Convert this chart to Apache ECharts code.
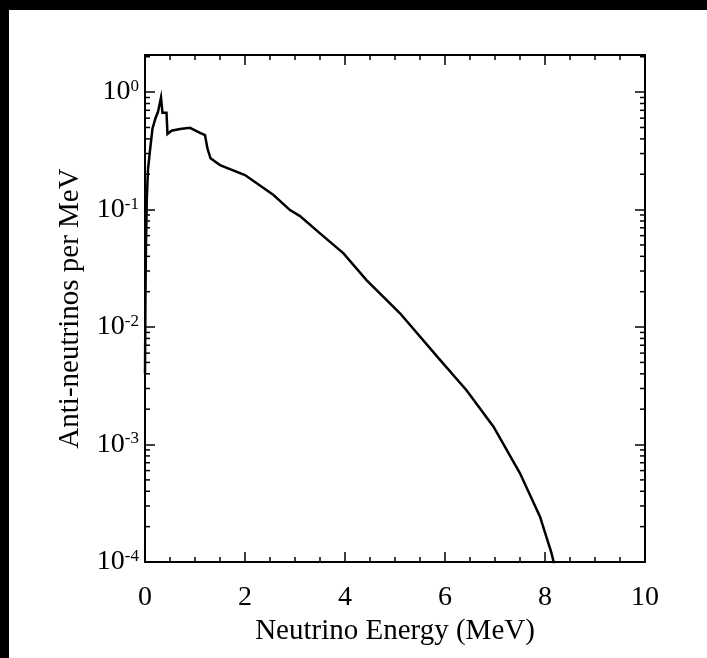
<!DOCTYPE html>
<html>
<head>
<meta charset="utf-8">
<script src="https://cdn.jsdelivr.net/npm/echarts@6/dist/echarts.min.js"></script>
<style>
  html, body { margin: 0; padding: 0; background: #000; }
  #frame { position: absolute; left: 9px; top: 10px; width: 698px; height: 648px; background: #fff; }
</style>
</head>
<body>
<div id="frame"></div>
<script>
// Reactor anti-neutrino spectrum (per MeV) versus neutrino energy
const energy = [0, 0.01, 0.02, 0.035, 0.06, 0.1, 0.15, 0.21, 0.26, 0.28, 0.32, 0.35, 0.43, 0.45,
                0.53, 0.7, 0.9, 1.1, 1.2, 1.25, 1.31, 1.5, 2.0, 2.57, 2.9, 3.1, 3.5, 3.97,
                4.43, 5.1, 5.9, 6.43, 6.97, 7.5, 7.9, 8.13, 8.3];
const flux   = [0.004, 0.02, 0.05, 0.12, 0.22, 0.32, 0.49, 0.60, 0.68, 0.66, 0.90, 0.667, 0.667, 0.44,
                0.469, 0.485, 0.497, 0.45, 0.43, 0.33, 0.273, 0.239, 0.197, 0.133, 0.099, 0.088, 0.0627, 0.0424,
                0.0251, 0.0131, 0.00525, 0.0029, 0.00142, 0.000569, 0.000243, 0.000119, 0.00006];

const xTicks = [0, 2, 4, 6, 8, 10];
const yMin = 1e-4;
const yMax = 2.07;
// minor ticks of the log axis at 2..9 x 10^k
const yMinor = [];
for (let k = -4; k <= 0; k++) {
  for (let m = 2; m <= 9; m++) {
    const v = m * Math.pow(10, k);
    if (v < yMax) yMinor.push(v);
  }
}

const FONT = 'Liberation Serif';
const chart = echarts.init(document.getElementById('frame'), null, { renderer: 'canvas' });

const axisLineStyle = { color: '#000', width: 2 };
const tickStyle = { color: '#000', width: 1.5 };

const xCommon = {
  type: 'value', min: xTicks[0], max: xTicks[xTicks.length - 1], interval: 2,
  axisLine: { show: true, onZero: false, lineStyle: axisLineStyle },
  axisTick: { show: true, inside: true, length: 10, lineStyle: tickStyle },
  minorTick: { show: true, splitNumber: 4, length: 5, lineStyle: tickStyle },
  splitLine: { show: false }, minorSplitLine: { show: false }
};
const yCommon = {
  type: 'log', logBase: 10, min: yMin, max: yMax, splitNumber: 4,
  axisLine: { show: true, onZero: false, lineStyle: axisLineStyle },
  axisTick: { show: true, inside: true, length: 10, lineStyle: tickStyle },
  splitLine: { show: false }
};

function powLabel(v) {
  const e = Math.log10(v);
  const r = Math.round(e);
  if (Math.abs(e - r) > 1e-6) return '';
  return '{b|10}{s|' + r + '}';
}

chart.setOption({
  animation: false,
  backgroundColor: '#fff',
  grid: { left: 136, top: 45, right: 62, bottom: 96 },
  xAxis: [
    Object.assign({}, xCommon, {
      position: 'bottom',
      name: 'Neutrino Energy (MeV)', nameLocation: 'middle', nameGap: 50,
      nameTextStyle: { fontFamily: FONT, fontSize: 29, color: '#000' },
      axisLabel: { show: true, margin: 22, fontFamily: FONT, fontSize: 28, color: '#000' }
    }),
    Object.assign({}, xCommon, { position: 'top', axisLabel: { show: false } })
  ],
  yAxis: [
    Object.assign({}, yCommon, {
      position: 'left',
      name: 'Anti-neutrinos per MeV', nameLocation: 'middle', nameGap: 60, nameRotate: 90,
      nameTextStyle: { fontFamily: FONT, fontSize: 29, color: '#000' },
      axisLabel: {
        show: true, margin: 6, formatter: powLabel,
        rich: {
          b: { fontFamily: FONT, fontSize: 28, color: '#000', lineHeight: 28, verticalAlign: 'bottom' },
          s: { fontFamily: FONT, fontSize: 17, color: '#000', lineHeight: 28, verticalAlign: 'top', padding: [0, 0, 14, 0] }
        }
      }
    }),
    Object.assign({}, yCommon, { position: 'right', axisLabel: { show: false } })
  ],
  series: [
    {
      type: 'line', xAxisIndex: 0, yAxisIndex: 0,
      data: energy.map((e, i) => [e, flux[i]]),
      showSymbol: false, symbol: 'none', clip: true,
      lineStyle: { color: '#000', width: 2.5, join: 'miter' }
    },
    {
      // minor log ticks drawn inward on the left and right frame edges
      type: 'custom', xAxisIndex: 0, yAxisIndex: 0, silent: true,
      data: yMinor.map(v => [0, v]),
      renderItem: function (params, api) {
        const cs = params.coordSys;
        const y = api.coord([0, api.value(1)])[1];
        if (y < cs.y + 1 || y > cs.y + cs.height - 1) return null;
        const st = { stroke: '#000', lineWidth: 1.5 };
        return {
          type: 'group',
          children: [
            { type: 'line', shape: { x1: cs.x, y1: y, x2: cs.x + 5, y2: y }, style: st },
            { type: 'line', shape: { x1: cs.x + cs.width - 5, y1: y, x2: cs.x + cs.width, y2: y }, style: st }
          ]
        };
      }
    }
  ]
});
</script>
</body>
</html>
